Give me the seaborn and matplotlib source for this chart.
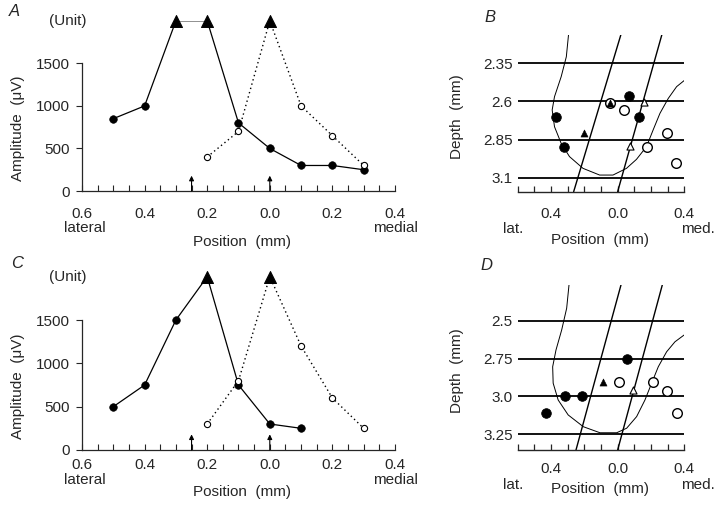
#!/usr/bin/env python3
"""
Amplitude profiles across electrode tracks (A, C) and recording sites
on the depth / position maps (B, D).
"""

import matplotlib
matplotlib.use('Agg')
import matplotlib.pyplot as plt
import pandas as pd
import seaborn as sns

# Panel A / C amplitude profiles (negative position = lateral)
pos_a_solid = [-0.5, -0.4, -0.3, -0.2, -0.1, 0.0, 0.1, 0.2, 0.3]
amp_a_solid = [850, 1000, 2000, 2000, 800, 500, 300, 300, 250]
pos_a_open = [-0.2, -0.1, 0.0, 0.1, 0.2, 0.3]
amp_a_open = [400, 700, 2000, 1000, 650, 300]

pos_c_solid = [-0.5, -0.4, -0.3, -0.2, -0.1, 0.0, 0.1]
amp_c_solid = [500, 750, 1500, 2000, 750, 300, 250]
pos_c_open = [-0.2, -0.1, 0.0, 0.1, 0.2, 0.3]
amp_c_open = [300, 800, 2000, 1200, 600, 250]

unit_level = 2000          # values shown as "(Unit)" activity
arrow_pos = [-0.25, 0.0]   # track positions
amp_ticks = [0, 500, 1000, 1500]
pos_ticks = [-0.6, -0.4, -0.2, 0.0, 0.2, 0.4]
pos_ticklabels = ['0.6', '0.4', '0.2', '0.0', '0.2', '0.4']

# Panel B / D maps
map_ticks = [-0.4, 0.0, 0.4]
map_ticklabels = ['0.4', '0.0', '0.4']

depth_b = [2.35, 2.6, 2.85, 3.1]
depth_b_labels = ['2.35', '2.6', '2.85', '3.1']
b_filled_x = [-0.373, -0.323, 0.067, 0.127]
b_filled_y = [2.704, 2.897, 2.562, 2.704]
b_open_x = [-0.048, 0.037, 0.177, 0.298, 0.348]
b_open_y = [2.612, 2.656, 2.897, 2.805, 3.002]
b_tri_x = [-0.202, -0.048]
b_tri_y = [2.805, 2.612]
b_opentri_x = [0.157, 0.077]
b_opentri_y = [2.602, 2.89]
b_track1_x = [-0.264, 0.019]
b_track2_x = [0.0, 0.265]
b_track_y = [3.192, 2.164]
b_outline_x = [-0.295, -0.308, -0.339, -0.379, -0.393, -0.379, -0.339, -0.289,
               -0.208, -0.108, -0.028, 0.053, 0.113, 0.173, 0.213, 0.254,
               0.304, 0.354, 0.404]
b_outline_y = [2.164, 2.307, 2.438, 2.569, 2.656, 2.766, 2.875, 2.962,
               3.039, 3.083, 3.083, 3.039, 2.98, 2.897, 2.787, 2.678,
               2.58, 2.503, 2.459]

depth_d = [2.5, 2.75, 3.0, 3.25]
depth_d_labels = ['2.5', '2.75', '3.0', '3.25']
d_filled_x = [0.054, -0.432, -0.313, -0.213]
d_filled_y = [2.75, 3.107, 3.0, 3.0]
d_open_x = [0.01, 0.214, 0.294, 0.355]
d_open_y = [2.905, 2.905, 2.961, 3.107]
d_tri_x = [-0.09]
d_tri_y = [2.905]
d_opentri_x = [0.094]
d_opentri_y = [2.96]
d_track1_x = [-0.25, 0.02]
d_track2_x = [0.0, 0.268]
d_track_y = [3.354, 2.262]
d_outline_x = [-0.292, -0.306, -0.336, -0.370, -0.390, -0.387, -0.357, -0.297,
               -0.206, -0.106, -0.006, 0.054, 0.114, 0.164, 0.204, 0.244,
               0.294, 0.344, 0.399]
d_outline_y = [2.262, 2.416, 2.560, 2.692, 2.803, 2.912, 3.023, 3.122,
               3.200, 3.240, 3.240, 3.210, 3.133, 3.023, 2.912, 2.803,
               2.704, 2.638, 2.593]

FS = 11


def below(ax, text, xfrac, dy_px, fs=FS):
    # text centred dy_px pixels under the x axis
    ax.annotate(text, xy=(xfrac, 0), xycoords='axes fraction',
                xytext=(0, -dy_px * 0.72), textcoords='offset points',
                ha='center', va='center', fontsize=fs)


def xlabel_at(ax, xfrac, dy_px):
    # xlabel is top-anchored, so shift up by about half its height
    ax.set_xlabel('Position  (mm)', fontsize=FS)
    ax.xaxis.set_label_coords(xfrac, -(dy_px - 7) / ax.bbox.height)


def profile_panel(ax, xs, ys, xo, yo, offs):
    tick_dy, side_dy, lab_dy = offs
    df_s = pd.DataFrame({'pos': xs, 'amp': ys})
    df_o = pd.DataFrame({'pos': xo, 'amp': yo})
    sns.lineplot(data=df_s, x='pos', y='amp', ax=ax, sort=False, estimator=None,
                 color='black', linewidth=0.9)
    sns.lineplot(data=df_o, x='pos', y='amp', ax=ax, sort=False, estimator=None,
                 color='black', linewidth=1.0, linestyle=(0, (1, 2.2)))
    s_c = df_s[df_s.amp < unit_level]
    o_c = df_o[df_o.amp < unit_level]
    tri = pd.concat([df_s[df_s.amp >= unit_level], df_o[df_o.amp >= unit_level]])
    sns.scatterplot(data=s_c, x='pos', y='amp', ax=ax, color='black', s=30,
                    marker='o', edgecolor='black', zorder=4)
    sns.scatterplot(data=o_c, x='pos', y='amp', ax=ax, color='white', s=20,
                    marker='o', edgecolor='black', linewidth=0.8, zorder=4)
    sns.scatterplot(data=tri, x='pos', y='amp', ax=ax, color='black', s=75,
                    marker='^', edgecolor='black', zorder=5, clip_on=False)
    for xa in arrow_pos:
        ax.annotate('', xy=(xa, 180), xytext=(xa, 0),
                    arrowprops=dict(arrowstyle='-|>', color='black', lw=0.8,
                                    mutation_scale=7, shrinkA=0, shrinkB=0))
    ax.set_xlim(-0.6, 0.4)
    ax.set_ylim(0, unit_level)
    ax.set_xticks(pos_ticks)
    ax.set_xticklabels(pos_ticklabels)
    ax.set_xticks([-0.6 + 0.05 * i for i in range(21)], minor=True)
    ax.set_yticks(amp_ticks)
    ax.tick_params(axis='x', which='both', direction='in', length=4, width=0.8,
                   pad=(tick_dy - 6) * 0.72, labelsize=FS)
    ax.tick_params(axis='y', direction='out', length=4, width=0.8, pad=5,
                   labelsize=FS)
    sns.despine(ax=ax)
    ax.spines['left'].set_bounds(0, 1500)
    for sp in ['left', 'bottom']:
        ax.spines[sp].set_linewidth(0.9)
    ax.text(-0.587, unit_level, '(Unit)', ha='right', va='center', fontsize=FS)
    ax.set_ylabel('Amplitude  (\u03bcV)', fontsize=FS)
    ax.yaxis.set_label_coords(-57 / ax.bbox.width, 0.37)
    xlabel_at(ax, 0.51, lab_dy)
    below(ax, 'lateral', 0.01, side_dy)
    below(ax, 'medial', 1.0, side_dy)


def map_panel(ax, depths, dlabels, ylim, fx, fy, ox, oy, tx, ty, otx, oty,
              t1, t2, ty_line, cx, cy, offs):
    tick_dy, side_dy, lab_dy = offs
    for d in depths:
        ax.axhline(d, color='black', linewidth=1.3, zorder=1)
    sns.lineplot(x=t1, y=ty_line, ax=ax, sort=False, estimator=None,
                 color='black', linewidth=1.0)
    sns.lineplot(x=t2, y=ty_line, ax=ax, sort=False, estimator=None,
                 color='black', linewidth=1.0)
    sns.lineplot(x=cx, y=cy, ax=ax, sort=False, estimator=None,
                 color='black', linewidth=0.7)
    sns.scatterplot(x=fx, y=fy, ax=ax, color='black', s=48, marker='o',
                    edgecolor='black', zorder=4)
    sns.scatterplot(x=ox, y=oy, ax=ax, color='white', s=48, marker='o',
                    edgecolor='black', linewidth=1.0, zorder=4)
    sns.scatterplot(x=tx, y=ty, ax=ax, color='black', s=26, marker='^',
                    edgecolor='black', zorder=5)
    sns.scatterplot(x=otx, y=oty, ax=ax, color='white', s=26, marker='^',
                    edgecolor='black', linewidth=0.8, zorder=5)
    ax.set_xlim(-0.6, 0.4)
    ax.set_ylim(*ylim)
    ax.set_xticks(map_ticks)
    ax.set_xticklabels(map_ticklabels)
    ax.set_xticks([-0.6 + 0.1 * i for i in range(11)], minor=True)
    ax.set_yticks(depths)
    ax.set_yticklabels(dlabels)
    ax.tick_params(axis='x', which='both', direction='in', length=4, width=0.9,
                   pad=(tick_dy - 6) * 0.72, labelsize=FS)
    ax.tick_params(axis='y', length=0, pad=3.5, labelsize=FS)
    sns.despine(ax=ax, left=True)
    ax.spines['bottom'].set_linewidth(1.0)
    ax.set_ylabel('Depth  (mm)', fontsize=FS)
    ax.yaxis.set_label_coords(-54 / ax.bbox.width, 0.48)
    xlabel_at(ax, 0.494, lab_dy)
    below(ax, 'lat.', -0.03, side_dy)
    below(ax, 'med.', 1.08, side_dy)


def main():
    sns.set_style('ticks')
    plt.rcParams['font.family'] = ['Liberation Sans', 'DejaVu Sans']

    fig = plt.figure(figsize=(7.2, 5.11), dpi=100)
    ax_a = fig.add_axes([0.1139, 0.6262, 0.4347, 0.3331])
    ax_c = fig.add_axes([0.1139, 0.1194, 0.4347, 0.3391])
    ax_b = fig.add_axes([0.7190, 0.6249, 0.2314, 0.3067])
    ax_d = fig.add_axes([0.7190, 0.1194, 0.2314, 0.3229])

    profile_panel(ax_a, pos_a_solid, amp_a_solid, pos_a_open, amp_a_open,
                  (22, 37, 51))
    profile_panel(ax_c, pos_c_solid, amp_c_solid, pos_c_open, amp_c_open,
                  (14, 30, 42))

    map_panel(ax_b, depth_b, depth_b_labels, (3.192, 2.164),
              b_filled_x, b_filled_y, b_open_x, b_open_y, b_tri_x, b_tri_y,
              b_opentri_x, b_opentri_y, b_track1_x, b_track2_x, b_track_y,
              b_outline_x, b_outline_y, (21, 37, 48))
    map_panel(ax_d, depth_d, depth_d_labels, (3.354, 2.262),
              d_filled_x, d_filled_y, d_open_x, d_open_y, d_tri_x, d_tri_y,
              d_opentri_x, d_opentri_y, d_track1_x, d_track2_x, d_track_y,
              d_outline_x, d_outline_y, (18, 35, 39))

    for lab, (x, y) in zip('ABCD', [(14, 12), (490, 17), (17, 263), (486, 266)]):
        fig.text(x / 720, 1 - y / 511, lab, ha='center', va='center',
                 fontsize=12, fontstyle='italic')

    fig.savefig('out.png', dpi=100)
    plt.close(fig)


if __name__ == "__main__":
    main()
